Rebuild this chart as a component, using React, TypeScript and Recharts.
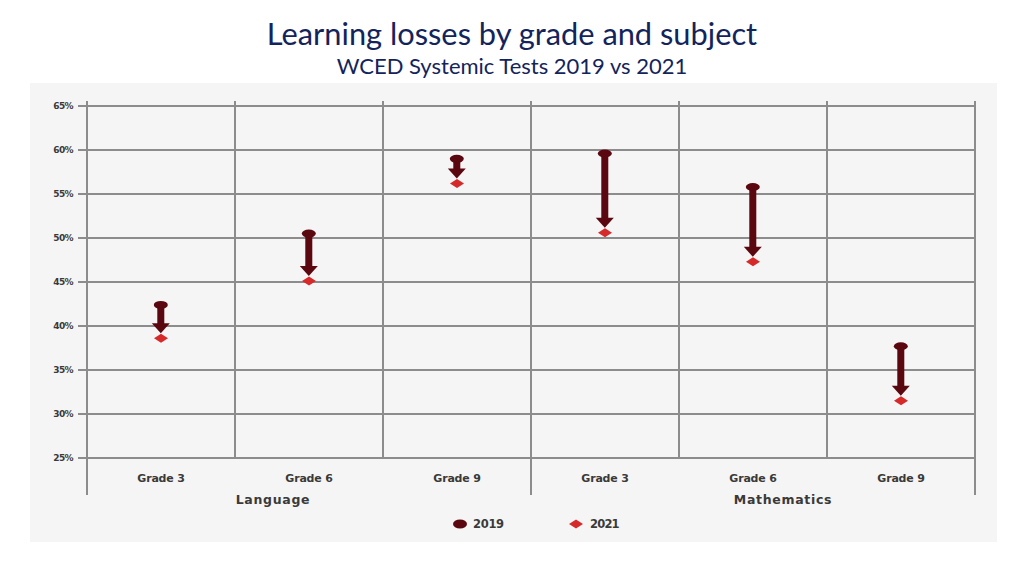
import React from 'react';
import { ComposedChart, Bar, Line, XAxis, YAxis, CartesianGrid } from 'recharts';

const categoryKeys = ['L3', 'L6', 'L9', 'M3', 'M6', 'M9'];
const gradeLabels = ['Grade 3', 'Grade 6', 'Grade 9', 'Grade 3', 'Grade 6', 'Grade 9'];
const subjectLabels = ['Language', 'Language', 'Language', 'Mathematics', 'Mathematics', 'Mathematics'];
const scores2019 = [42.4, 50.5, 59.0, 59.6, 55.8, 37.7];
const scores2021 = [38.6, 45.1, 56.2, 50.6, 47.3, 31.5];
const yTicks = [25, 30, 35, 40, 45, 50, 55, 60, 65];
const seriesNames = ['2019', '2021'];

const data = categoryKeys.map((k, i) => ({
  key: k,
  grade: gradeLabels[i],
  subject: subjectLabels[i],
  v2019: scores2019[i],
  v2021: scores2021[i],
  range: [scores2021[i], scores2019[i]],
}));

const ARROW = '#5a0710';
const DIAMOND = '#d62a2a';
const GRID = '#8c8c8c';
const NAVY = '#13245c';
const AXIS_FONT = "'DejaVu Sans', Verdana, sans-serif";
const TEXT = '#3a3a3a';

const CHART_W = 967;
const CHART_H = 459;
const MARGIN = { top: 23, right: 22, left: 0, bottom: 0 };
const X_AXIS_H = 84;
const PLOT_H = CHART_H - MARGIN.top - MARGIN.bottom - X_AXIS_H;

const ArrowShape = (props: any) => {
  const { x, y, width, height } = props;
  const cx = x + width / 2;
  const top = y;
  const bottom = y + height;
  const tip = bottom - 5;
  const headH = 10;
  const headHalf = 9;
  const shaftHalf = 3.5;
  return (
    <g>
      <rect x={cx - shaftHalf} y={top} width={shaftHalf * 2} height={Math.max(0, tip - headH - top + 1)} fill={ARROW} />
      <polygon points={`${cx - headHalf},${tip - headH} ${cx + headHalf},${tip - headH} ${cx},${tip}`} fill={ARROW} />
      <ellipse cx={cx} cy={top} rx={7} ry={4} fill={ARROW} />
    </g>
  );
};

const DiamondDot = (props: any) => {
  const { cx, cy } = props;
  if (cx == null || cy == null) return null;
  return <polygon points={`${cx - 7},${cy} ${cx},${cy - 4.5} ${cx + 7},${cy} ${cx},${cy + 4.5}`} fill={DIAMOND} />;
};

const groupDx: Record<number, number> = { 1: -36, 4: 30 };

const XTick = (props: any) => {
  const { x, y, payload, index } = props;
  const half = payload.offset ?? 0;
  const left = x - half;
  const right = x + half;
  const i = index as number;
  const showLeftBoundary = i === 0 || subjectLabels[i] !== subjectLabels[i - 1];
  const isLast = i === categoryKeys.length - 1;
  return (
    <g>
      <line x1={left} x2={left} y1={y - PLOT_H - 5} y2={showLeftBoundary ? y + 37 : y} stroke={GRID} strokeWidth={2} />
      {isLast && <line x1={right} x2={right} y1={y - PLOT_H - 5} y2={y + 37} stroke={GRID} strokeWidth={2} />}
      <text x={x} y={y + 24} textAnchor="middle" fontFamily={AXIS_FONT} fontWeight={700} fontSize={11} fill={TEXT} letterSpacing={-0.2}>
        {gradeLabels[i]}
      </text>
      {groupDx[i] !== undefined && (
        <text x={x + groupDx[i]} y={y + 46} textAnchor="middle" fontFamily={AXIS_FONT} fontWeight={700} fontSize={12.5} fill={TEXT} letterSpacing={0.7}>
          {subjectLabels[i]}
        </text>
      )}
    </g>
  );
};

const YTick = (props: any) => {
  const { x, y, payload } = props;
  return (
    <text x={x} y={y + 3} textAnchor="end" fontFamily={AXIS_FONT} fontWeight={700} fontSize={9} fill={TEXT} letterSpacing={-0.6}>
      {`${payload.value}%`}
    </text>
  );
};

export default function App() {
  return (
    <div style={{ position: 'absolute', left: 0, top: 0, width: 1024, height: 575, background: '#ffffff', overflow: 'hidden' }}>
      <svg width={1024} height={575} style={{ position: 'absolute', left: 0, top: 0 }}>
        <text x={512} y={45} textAnchor="middle" fontFamily="Lato, 'Open Sans', sans-serif" fontSize={30.8} fill={NAVY}>
          Learning losses by grade and subject
        </text>
        <text x={512} y={74} textAnchor="middle" fontFamily="Lato, 'Open Sans', sans-serif" fontSize={22} fill={NAVY}>
          WCED Systemic Tests 2019 vs 2021
        </text>
        <rect x={30} y={83} width={CHART_W} height={CHART_H} fill="#f5f5f5" />
      </svg>
      <div style={{ position: 'absolute', left: 30, top: 83 }}>
        <ComposedChart width={CHART_W} height={CHART_H} data={data} margin={MARGIN}>
          <CartesianGrid vertical={false} stroke={GRID} strokeWidth={2} strokeDasharray="" />
          <XAxis
            dataKey="key"
            type="category"
            height={X_AXIS_H}
            axisLine={false}
            tickLine={false}
            tickSize={0}
            tickMargin={0}
            interval={0}
            tick={<XTick />}
          />
          <YAxis
            type="number"
            domain={[25, 65]}
            ticks={yTicks}
            width={57}
            axisLine={false}
            tickLine={{ stroke: GRID, strokeWidth: 2 }}
            tickSize={9}
            tickMargin={5}
            tick={<YTick />}
          />
          <Bar dataKey="range" shape={<ArrowShape />} isAnimationActive={false} />
          <Line dataKey="v2021" stroke="none" dot={<DiamondDot />} activeDot={false} isAnimationActive={false} />
        </ComposedChart>
      </div>
      <svg width={1024} height={575} style={{ position: 'absolute', left: 0, top: 0, pointerEvents: 'none' }}>
        <ellipse cx={460} cy={524} rx={7} ry={4.5} fill={ARROW} />
        <text x={473} y={528} fontFamily={AXIS_FONT} fontWeight={700} fontSize={11.5} fill={TEXT} letterSpacing={-0.3}>
          {seriesNames[0]}
        </text>
        <polygon points="569,524 576,519.5 583,524 576,528.5" fill={DIAMOND} />
        <text x={590} y={528} fontFamily={AXIS_FONT} fontWeight={700} fontSize={11.5} fill={TEXT} letterSpacing={-0.8}>
          {seriesNames[1]}
        </text>
      </svg>
    </div>
  );
}
